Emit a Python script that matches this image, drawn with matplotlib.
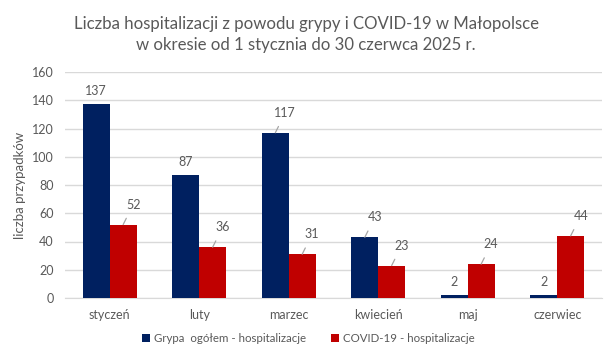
import matplotlib.pyplot as plt
import numpy as np

plt.rcParams['font.family'] = ['Lato', 'DejaVu Sans']

miesiace = ['styczeń', 'luty', 'marzec', 'kwiecień', 'maj', 'czerwiec']
grypa = [137, 87, 117, 43, 2, 2]
covid = [52, 36, 31, 23, 24, 44]

# which labels are shifted with a leader line
grypa_linia = [False, False, True, True, False, False]
covid_linia = [True, True, True, True, True, True]

granat = '#002060'
czerwony = '#C00000'
szary = '#595959'

fig = plt.figure(figsize=(6.11, 3.6), dpi=100)
ax = fig.add_axes([65/611, 1-298/360, 537/611, 226/360])

x = np.arange(len(miesiace))
w = 0.3
b1 = ax.bar(x - w/2, grypa, w, color=granat, label='Grypa  ogółem - hospitalizacje', zorder=3)
b2 = ax.bar(x + w/2, covid, w, color=czerwony, label='COVID-19 - hospitalizacje', zorder=3)

def etykiety(bary, wartosci, linie):
  for bar, v, l in zip(bary, wartosci, linie):
    cx = bar.get_x() + bar.get_width()/2
    if l:
      ax.annotate(str(v), (cx, v), xytext=(10, 20), textcoords='offset pixels',
                  ha='center', va='center', fontsize=9, color=szary,
                  arrowprops=dict(arrowstyle='-', color='#a6a6a6', lw=0.9,
                                  shrinkA=4, shrinkB=0))
    else:
      ax.annotate(str(v), (cx, v), xytext=(0, 13), textcoords='offset pixels',
                  ha='center', va='center', fontsize=9, color=szary)

etykiety(b1, grypa, grypa_linia)
etykiety(b2, covid, covid_linia)

ax.set_xlim(-0.5, len(miesiace) - 0.5)
ax.set_ylim(0, 160)
ax.set_yticks(range(0, 161, 20))
ax.set_xticks(x)
ax.set_xticklabels(miesiace)
ax.tick_params(axis='both', length=0, colors=szary, labelsize=9)
ax.tick_params(axis='y', pad=8)
ax.tick_params(axis='x', pad=8)
ax.grid(axis='y', color='#d9d9d9', lw=1, zorder=0)
for s in ['top', 'right', 'left']:
  ax.spines[s].set_visible(False)
ax.spines['bottom'].set_color('#d9d9d9')
ax.set_ylabel('liczba przypadków', fontsize=9.5, color=szary, labelpad=4)

tytul = fig.text(0.501, 0.904, 'Liczba hospitalizacji z powodu grypy i COVID-19 w Małopolsce\nw okresie od 1 stycznia do 30 czerwca 2025 r.',
                 ha='center', va='center', fontsize=13, color=szary, linespacing=1.45)
# fit title width to ~464 px like the reference
fig.canvas.draw()
szer = tytul.get_window_extent().width
tytul.set_fontsize(13 * 464 / szer)

fig.legend(loc='center', bbox_to_anchor=(0.505, 0.06), ncol=2, frameon=False,
           fontsize=8.3, labelcolor=szary, handlelength=0.7, handleheight=0.7,
           handletextpad=0.3, columnspacing=2.2)

fig.savefig('out.png', dpi=100)
